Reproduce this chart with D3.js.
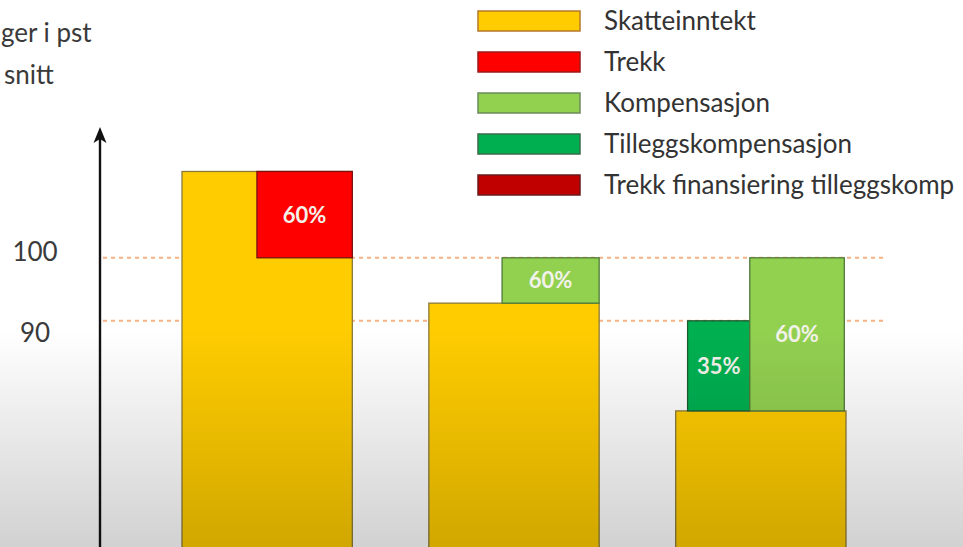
<!DOCTYPE html>
<html>
<head>
<meta charset="utf-8">
<script src="https://cdn.jsdelivr.net/npm/d3@7"></script>
<style>
  html, body { margin: 0; padding: 0; background: #ffffff; overflow: hidden; }
  svg { display: block; }
  text { font-family: Lato, "Open Sans", sans-serif; }
</style>
</head>
<body>
<svg id="chart" width="963" height="547"></svg>
<script>
// ---- data ----
const categories = ["Kommune A", "Kommune B", "Kommune C"];
const skatteinntekt = [113.7, 92.8, 75.7];           // base bar values (pst av landsgjennomsnitt)
const segCategory = [0, 1, 2, 2];
const segSeries   = ["Trekk", "Kompensasjon", "Tilleggskompensasjon", "Kompensasjon"];
const segFrom     = [100, 92.8, 75.7, 75.7];
const segTo       = [113.7, 100, 90, 100];
const segLabels   = ["60%", "60%", "35%", "60%"];
const tickValues  = [90, 100];
const legendKeys  = ["Skatteinntekt", "Trekk", "Kompensasjon", "Tilleggskompensasjon", "TrekkFin"];
const legendNames = ["Skatteinntekt", "Trekk", "Kompensasjon", "Tilleggskompensasjon", "Trekk finansiering tilleggskomp"];
const titleLines  = ["ger i pst", "snitt"];   // visible (cropped) part of the axis title

// ---- styles / layout ----
const colors = {
  "Skatteinntekt": "#FFCC00",
  "Trekk": "#FF0000",
  "Kompensasjon": "#92D050",
  "Tilleggskompensasjon": "#00B050",
  "TrekkFin": "#C00000"
};
const strokes = {
  "Skatteinntekt": "#8a7a3a",
  "Trekk": "#7a1010",
  "Kompensasjon": "#4f7a3a",
  "Tilleggskompensasjon": "#1f5a30",
  "TrekkFin": "#6a0a0a"
};
const legendStroke = {
  "Skatteinntekt": "#b5782a",
  "Trekk": "#9a1a1a",
  "Kompensasjon": "#6a8a5a",
  "Tilleggskompensasjon": "#3a6a4a",
  "TrekkFin": "#6a1a1a"
};
// horizontal placement of segments within the band (fractions)
const segX0 = [0.44, 0.43, 0.07, 0.435];
const segX1 = [1.0, 1.0, 0.435, 0.99];

const W = 963, H = 547;
const svg = d3.select("#chart");
const defs = svg.append("defs");

const y = d3.scaleLinear().domain([54.1, 120.6]).range([547, 128]);
const x = d3.scaleBand().domain(categories).range([182, 846]).paddingInner(0.31).paddingOuter(0);

// background
svg.append("rect").attr("width", W).attr("height", H).attr("fill", "#ffffff");

// reference dashed lines
svg.append("g").selectAll("line").data(tickValues).join("line")
  .attr("x1", 103).attr("x2", 886)
  .attr("y1", d => y(d)).attr("y2", d => y(d))
  .attr("stroke", "#F4B183").attr("stroke-width", 2)
  .attr("stroke-dasharray", "4,4");

// base bars
svg.append("g").selectAll("rect").data(skatteinntekt).join("rect")
  .attr("x", (d, i) => x(categories[i]))
  .attr("width", x.bandwidth())
  .attr("y", d => y(d))
  .attr("height", d => y.range()[0] + 5 - y(d))
  .attr("fill", colors["Skatteinntekt"])
  .attr("stroke", strokes["Skatteinntekt"]).attr("stroke-width", 1.3);

// segments
const segIdx = d3.range(segFrom.length);
const segG = svg.append("g");
segG.selectAll("rect").data(segIdx).join("rect")
  .attr("x", i => x(categories[segCategory[i]]) + segX0[i] * x.bandwidth())
  .attr("width", i => (segX1[i] - segX0[i]) * x.bandwidth())
  .attr("y", i => y(segTo[i]))
  .attr("height", i => y(segFrom[i]) - y(segTo[i]))
  .attr("fill", i => colors[segSeries[i]])
  .attr("stroke", i => strokes[segSeries[i]]).attr("stroke-width", 1.3);
segG.selectAll("text").data(segIdx).join("text")
  .attr("x", i => x(categories[segCategory[i]]) + (segX0[i] + segX1[i]) / 2 * x.bandwidth())
  .attr("y", i => (y(segFrom[i]) + y(segTo[i])) / 2)
  .attr("dy", "0.36em")
  .attr("text-anchor", "middle")
  .attr("font-size", 22).attr("font-weight", 700)
  .attr("fill", "#F2F2EA")
  .text(i => segLabels[i]);

// y axis: arrow line + tick labels
const axTop = y.range()[1];
svg.append("line")
  .attr("x1", 100).attr("x2", 100)
  .attr("y1", H + 2).attr("y2", axTop + 8)
  .attr("stroke", "#111").attr("stroke-width", 2.4);
svg.append("path")
  .attr("d", `M100,${axTop - 1} L106.5,${axTop + 15} L100,${axTop + 11} L93.5,${axTop + 15} Z`)
  .attr("fill", "#111");

const axis = d3.axisLeft(y).tickValues(tickValues).tickSize(0).tickFormat(d3.format("d"));
const ag = svg.append("g").attr("transform", "translate(35,0)").call(axis);
ag.select(".domain").remove();
ag.selectAll("text")
  .attr("x", 0)
  .attr("text-anchor", "middle")
  .attr("font-family", "Lato, 'Open Sans', sans-serif")
  .attr("font-size", 26)
  .attr("fill", "#3a3a3a")
  .attr("dy", d => d === 100 ? "0.12em" : "0.8em");

// axis title (only its cropped end is visible)
svg.append("g").selectAll("text").data(titleLines).join("text")
  .attr("x", (d, i) => i === 0 ? 1 : 4)
  .attr("y", (d, i) => 42 + i * 42)
  .attr("font-size", 26)
  .attr("fill", "#3a3a3a")
  .text(d => d);

// legend
const lg = svg.append("g");
const rows = lg.selectAll("g").data(legendKeys).join("g")
  .attr("transform", (d, i) => `translate(478, ${21 + i * 41})`);
rows.append("rect")
  .attr("x", 0).attr("y", -10).attr("width", 102).attr("height", 20)
  .attr("fill", d => colors[d])
  .attr("stroke", d => legendStroke[d]).attr("stroke-width", 1.5);
rows.append("text")
  .attr("x", 126).attr("y", 0).attr("dy", "0.35em")
  .attr("font-size", 26)
  .attr("fill", "#333")
  .text((d, i) => legendNames[i]);

// bottom shading of the slide
const sh = defs.append("linearGradient").attr("id", "shade")
  .attr("gradientUnits", "userSpaceOnUse")
  .attr("x1", 0).attr("y1", 330).attr("x2", 0).attr("y2", 547);
sh.append("stop").attr("offset", 0).attr("stop-color", "#000").attr("stop-opacity", 0);
sh.append("stop").attr("offset", 1).attr("stop-color", "#000").attr("stop-opacity", 0.18);
svg.append("rect").attr("width", W).attr("height", H)
  .attr("fill", "url(#shade)").attr("pointer-events", "none");
</script>
</body>
</html>
